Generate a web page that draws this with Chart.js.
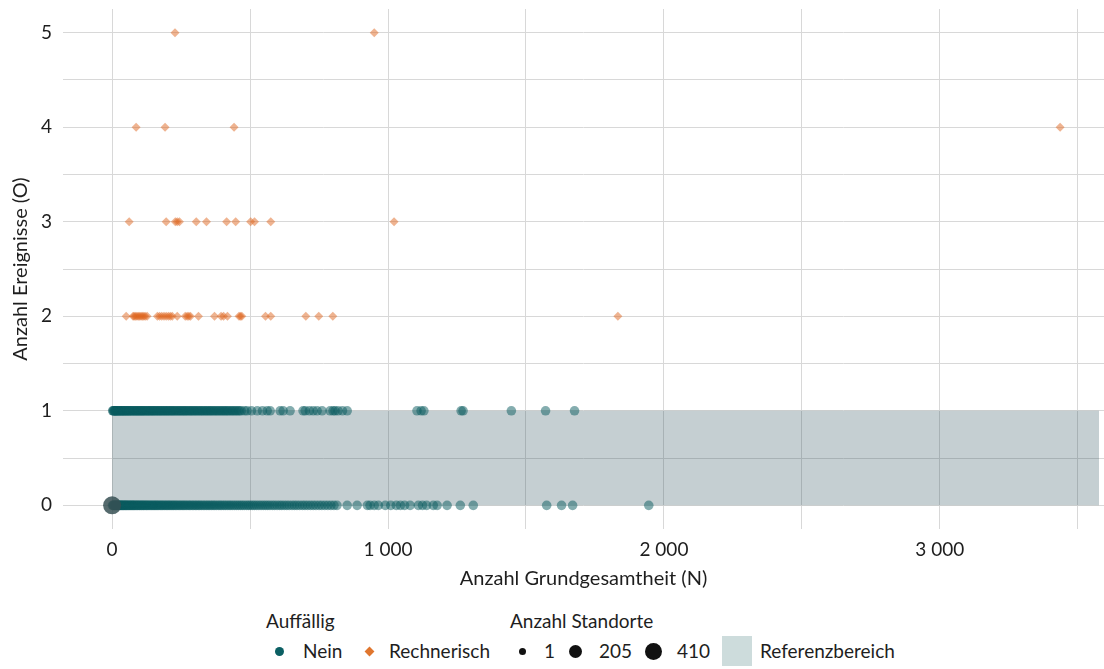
<!DOCTYPE html>
<html>
<head>
<meta charset="utf-8">
<script src="https://cdn.jsdelivr.net/npm/chart.js@4.4.1/dist/chart.umd.min.js"></script>
<style>
  body { margin: 0; background: #fff; font-family: Lato, "Open Sans", sans-serif; overflow: hidden; }
  #wrap { position: relative; width: 1104px; height: 669px; }
  #box { position: absolute; left: 0; top: 0; width: 1104px; height: 600px; }
  .lg { position: absolute; font-size: 19px; color: #1e1e1e; white-space: nowrap; line-height: 22px; }
  .dot { position: absolute; border-radius: 50%; }
</style>
</head>
<body>
<div id="wrap">
  <div id="box"><canvas id="c"></canvas></div>

  <!-- legend, drawn as HTML below the plot -->
  <div class="lg" style="left:266px; top:610px;">Auffällig</div>
  <div class="dot" style="left:275px; top:647px; width:9px; height:9px; background:#0b5f63;"></div>
  <div class="lg" style="left:303px; top:640px;">Nein</div>
  <div style="position:absolute; left:366px; top:648px; width:7px; height:7px; background:#e0762e; transform:rotate(45deg);"></div>
  <div class="lg" style="left:389px; top:640px;">Rechnerisch</div>

  <div class="lg" style="left:510px; top:610px;">Anzahl Standorte</div>
  <div class="dot" style="left:519px; top:648px; width:7px; height:7px; background:#111;"></div>
  <div class="lg" style="left:544px; top:640px;">1</div>
  <div class="dot" style="left:569px; top:645px; width:13px; height:13px; background:#111;"></div>
  <div class="lg" style="left:599px; top:640px;">205</div>
  <div class="dot" style="left:645px; top:643px; width:17px; height:17px; background:#111;"></div>
  <div class="lg" style="left:677px; top:640px;">410</div>

  <div style="position:absolute; left:722px; top:636px; width:30px; height:30px; background:#cddcdc;"></div>
  <div class="lg" style="left:760px; top:640px;">Referenzbereich</div>
</div>

<script>
// x values (Anzahl Grundgesamtheit) per number of events
const neinO0 = [1, 3, 5, 7, 9, 11, 13, 15, 17, 19, 21, 24, 26, 28, 31, 33, 36, 38, 41, 43,
  46, 49, 51, 54, 57, 60, 63, 66, 69, 72, 75, 78, 81, 84, 88, 91, 94, 98, 101, 105,
  108, 112, 115, 119, 123, 126, 130, 134, 138, 142, 146, 150, 154, 158, 162, 166, 170, 175, 179, 183,
  188, 192, 197, 201, 206, 210, 215, 220, 224, 229, 234, 239, 244, 249, 254, 259, 264, 269, 275, 280,
  285, 291, 296, 302, 307, 313, 318, 324, 330, 336, 342, 348, 354, 360, 366, 372, 378, 385, 391, 397,
  404, 410, 417, 424, 430, 437, 444, 451, 458, 465, 472, 479, 487, 494, 501, 509, 516, 524, 532, 540,
  548, 556, 564, 572, 581, 589, 598, 607, 615, 624, 633, 642, 652, 661, 670, 680, 690, 699, 709, 719,
  729, 739, 750, 760, 771, 782, 793, 804, 815, 852, 888, 925, 935, 950, 965, 990, 1010, 1030, 1045, 1060,
  1080, 1110, 1125, 1140, 1164, 1178, 1214, 1262, 1309, 1575, 1629, 1669, 1945];
const neinO1 = [2, 4, 6, 8, 10, 12, 14, 16, 18, 20, 23, 25, 27, 30, 32, 35, 37, 40, 42, 45,
  47, 50, 53, 55, 58, 61, 63, 66, 69, 72, 75, 78, 81, 84, 87, 90, 93, 96, 99, 102,
  105, 108, 111, 114, 117, 120, 124, 127, 130, 133, 137, 140, 143, 147, 150, 153, 157, 160, 164, 167,
  171, 174, 178, 181, 185, 189, 192, 196, 200, 203, 207, 211, 215, 218, 222, 226, 230, 234, 238, 242,
  246, 250, 254, 258, 262, 266, 270, 274, 279, 283, 287, 291, 296, 300, 304, 309, 313, 318, 322, 327,
  331, 336, 341, 345, 350, 355, 359, 364, 369, 374, 379, 384, 389, 394, 399, 404, 409, 414, 419, 424,
  430, 435, 440, 446, 451, 457, 462, 468, 480, 489, 505, 526, 545, 562, 573, 609, 620, 645, 692, 700,
  715, 729, 743, 761, 790, 801, 808, 819, 835, 852, 1105, 1120, 1130, 1265, 1272, 1447, 1571, 1676];
const rechO2 = [51, 76, 80, 85, 90, 95, 100, 105, 110, 115, 120, 127, 164, 172, 180, 188, 196, 204, 211, 218,
  236, 265, 272, 278, 284, 313, 371, 395, 404, 418, 460, 465, 470, 556, 575, 702, 749, 800, 1833];
const rechO3 = [62, 196, 229, 236, 244, 305, 342, 415, 448, 502, 516, 575, 1022];
const rechO4 = [87, 192, 442, 3436];
const rechO5 = [228, 950];

// one site cluster with many Standorte at the origin
const grossX = [0];
const grossY = [0];
const grossN = [410];

// Referenzbereich 0..1
const refMin = 0;
const refMax = 1;
const refEndX = 3577;

const xTicks = [0, 500, 1000, 1500, 2000, 2500, 3000, 3500];
const yTicks = [0, 0.5, 1, 1.5, 2, 2.5, 3, 3.5, 4, 4.5, 5];

function toPoints(xs, y) {
    return xs.map((x) => ({ x: x, y: y }));
}

function fmtThousand(v) {
    return String(v).replace(/\B(?=(\d{3})+(?!\d))/g, ' ');
}

// drop the extra room Chart.js keeps for overhanging tick labels
function noOverhang(scale) {
    scale.paddingTop = 0;
    scale.paddingBottom = 0;
    scale.paddingLeft = 0;
    scale.paddingRight = 0;
}

const teal = 'rgba(10,92,96,0.5)';
const orange = 'rgba(224,104,34,0.5)';

const datasets = [
    {
        type: 'line',
        data: [{ x: 0, y: refMax }, { x: refEndX, y: refMax }],
        borderWidth: 0,
        pointRadius: 0,
        backgroundColor: 'rgba(23,63,75,0.25)',
        fill: { value: refMin },
        order: 10
    },
    {
        data: toPoints(neinO0, 0).concat(toPoints(neinO1, 1)),
        backgroundColor: teal,
        borderWidth: 0,
        pointRadius: 4.8,
        order: 2
    },
    {
        data: toPoints(rechO2, 2).concat(toPoints(rechO3, 3), toPoints(rechO4, 4), toPoints(rechO5, 5)),
        backgroundColor: orange,
        borderWidth: 0,
        pointStyle: 'rectRot',
        pointRadius: 4.5,
        order: 2
    },
    {
        data: grossX.map((x, i) => ({ x: x, y: grossY[i], n: grossN[i] })),
        backgroundColor: 'rgba(55,80,83,0.85)',
        borderWidth: 0,
        pointRadius: (ctx) => 3 + 6 * Math.sqrt(ctx.raw.n / 410),
        order: 1
    }
];

const gridColor = '#d8d8d8';
const tickFont = { family: 'Lato, "Open Sans", sans-serif', size: 19 };
const titleFont = { family: 'Lato, "Open Sans", sans-serif', size: 20 };

new Chart(document.getElementById('c'), {
    type: 'scatter',
    data: { datasets: datasets },
    options: {
        responsive: true,
        maintainAspectRatio: false,
        animation: false,
        layout: { autoPadding: false, padding: { top: 9, right: 0, bottom: 0, left: 0 } },
        plugins: { legend: { display: false }, tooltip: { enabled: false } },
        scales: {
            x: {
                type: 'linear',
                min: -178,
                max: 3595,
                afterBuildTicks: (scale) => { scale.ticks = xTicks.map((v) => ({ value: v })); },
                afterFit: (scale) => { scale.height = 71; noOverhang(scale); },
                grid: { color: gridColor, drawTicks: false },
                border: { display: false },
                ticks: {
                    color: '#1e1e1e',
                    font: tickFont,
                    padding: 9,
                    autoSkip: false,
                    maxRotation: 0,
                    callback: (v) => (v % 1000 === 0 ? fmtThousand(v) : '')
                },
                title: { display: true, text: 'Anzahl Grundgesamtheit (N)', color: '#1e1e1e', font: titleFont, padding: { top: 4, bottom: 9 } }
            },
            y: {
                type: 'linear',
                min: -0.25,
                max: 5.25,
                afterBuildTicks: (scale) => { scale.ticks = yTicks.map((v) => ({ value: v })); },
                afterFit: (scale) => { scale.width = 63; noOverhang(scale); },
                grid: { color: gridColor, drawTicks: false },
                border: { display: false },
                ticks: {
                    color: '#1e1e1e',
                    font: tickFont,
                    padding: 11,
                    autoSkip: false,
                    callback: (v) => (Number.isInteger(v) ? String(v) : '')
                },
                title: { display: true, text: 'Anzahl Ereignisse (O)', color: '#1e1e1e', font: titleFont, padding: { top: 9, bottom: 4 } }
            }
        }
    }
});
</script>
</body>
</html>
